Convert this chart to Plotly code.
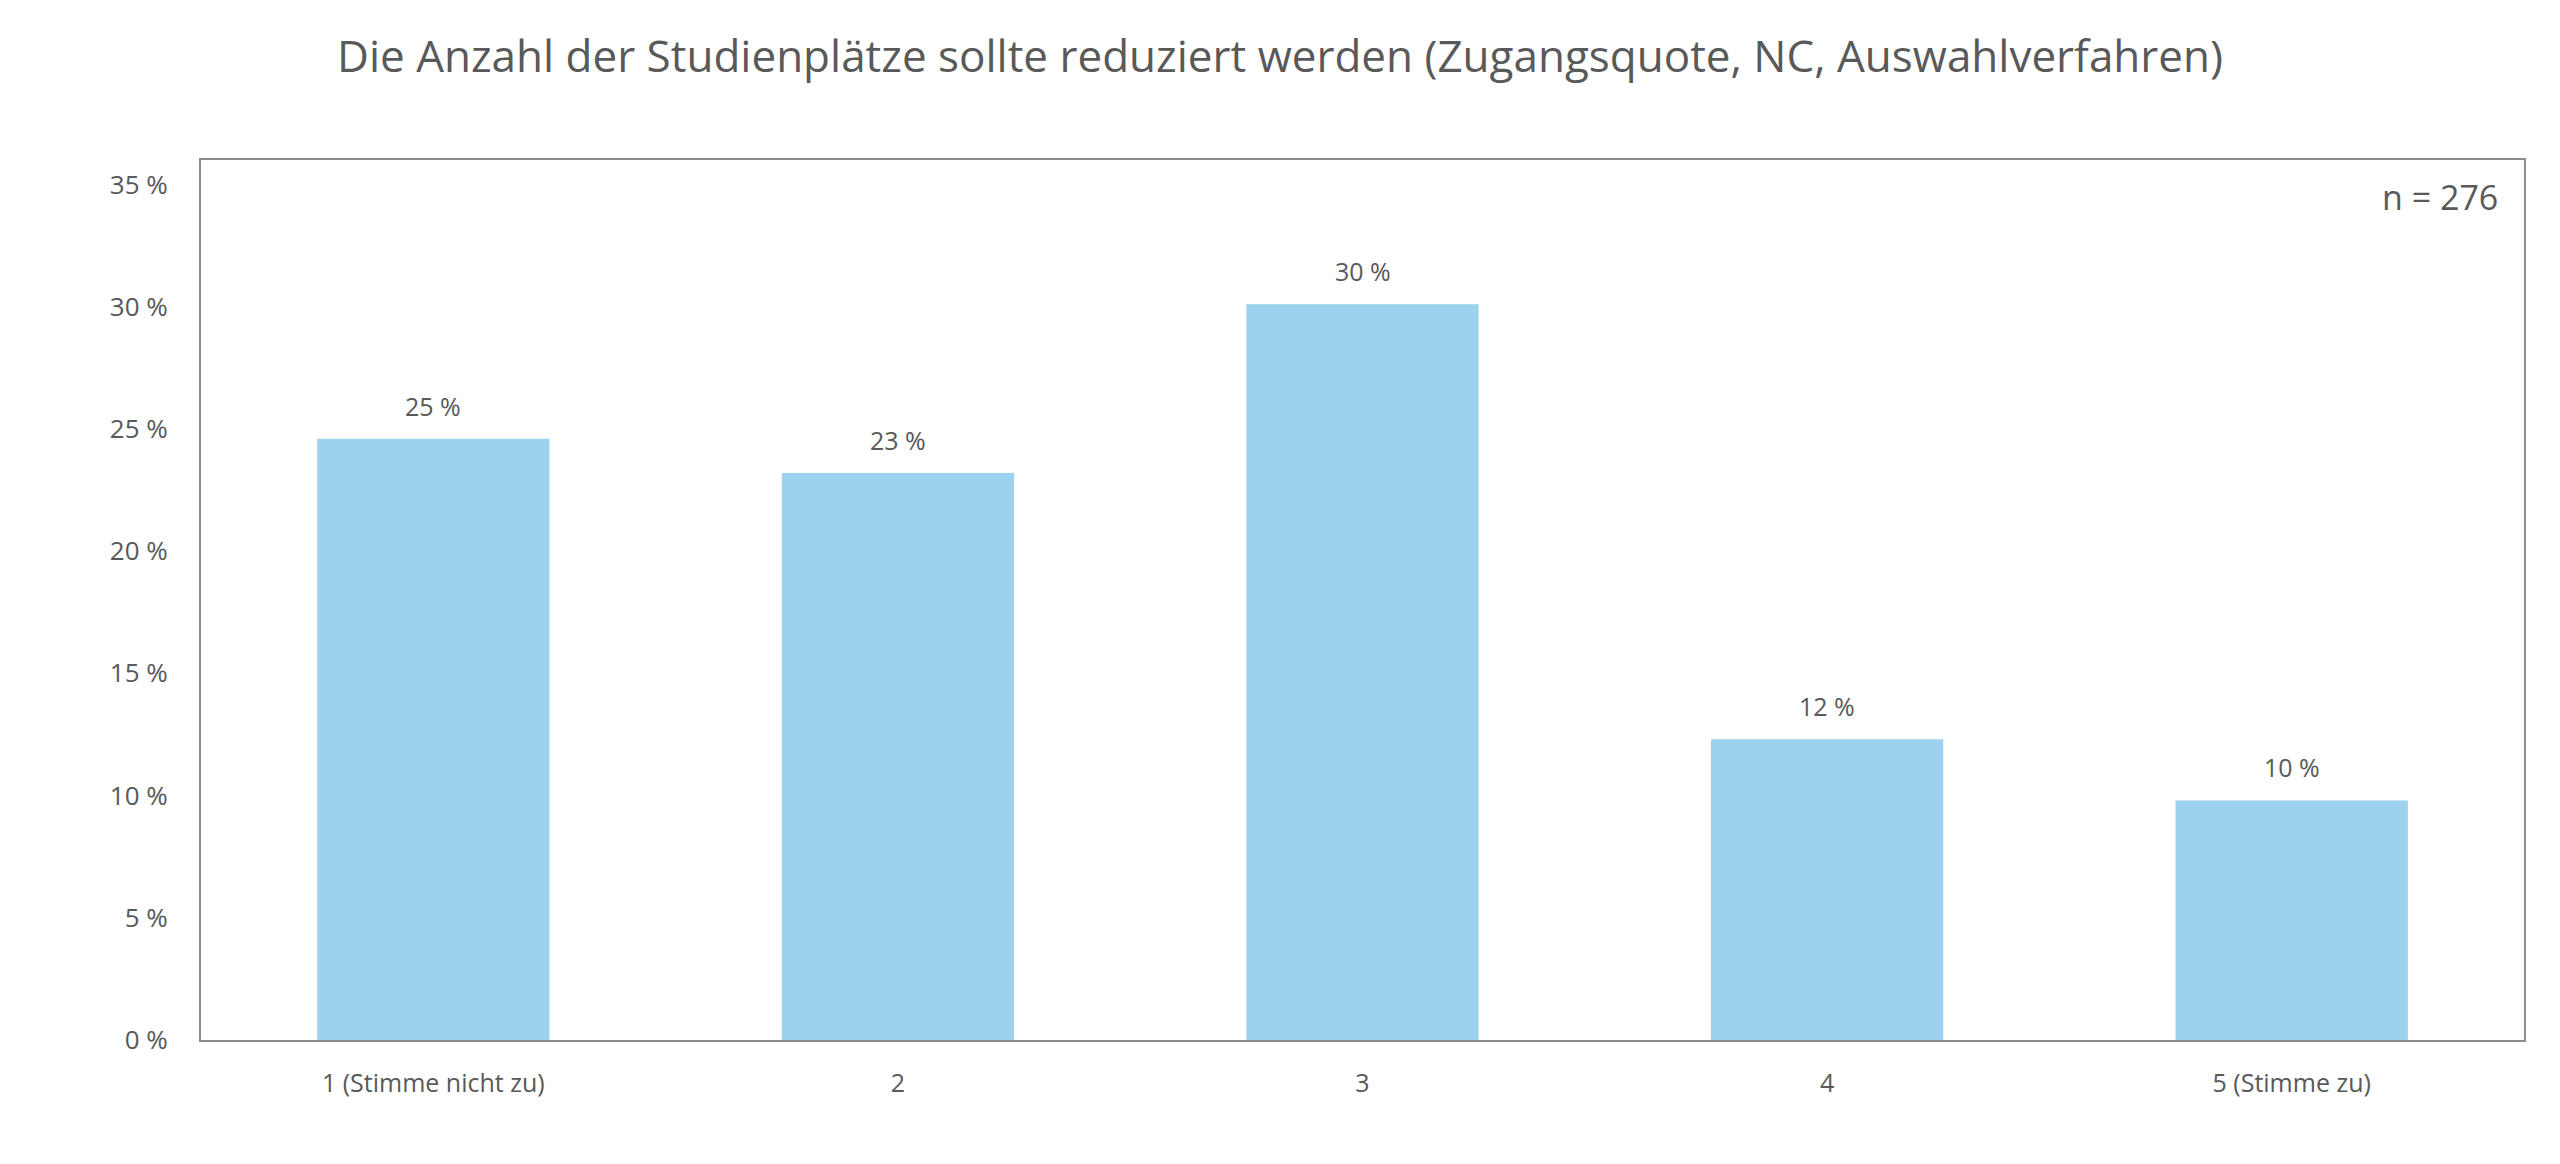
import plotly.graph_objects as go

# answers on the 1..5 scale, share of respondents in percent
categories = ["1 (Stimme nicht zu)", "2", "3", "4", "5 (Stimme zu)"]
shares = [24.6, 23.2, 30.1, 12.3, 9.8]
n_total = 276
y_ticks = [0, 5, 10, 15, 20, 25, 30, 35]

title = "Die Anzahl der Studienplätze sollte reduziert werden (Zugangsquote, NC, Auswahlverfahren)"
grey = "#595959"
font = "Open Sans"

# page body has an 8px margin, so the figure is a bit smaller than the window
W, H = 2544, 1148

fig = go.Figure()
fig.add_trace(go.Bar(
    x=categories, y=shares,
    marker_color="#9dd2ee", marker_line_width=0,
    width=0.5, hoverinfo="x+y"))

# value labels above the bars (x by index so "2", "3" aren't read as numbers)
for i, val in enumerate(shares):
    fig.add_annotation(
        x=i, y=val, text=f"{val:.0f} %", showarrow=False,
        yanchor="bottom", yshift=14,
        font=dict(family=font, size=25, color=grey))

fig.add_annotation(
    xref="paper", yref="paper", x=1, y=1, xanchor="right", yanchor="top",
    xshift=-24, yshift=-12, text=f"n = {n_total}", showarrow=False,
    font=dict(family=font, size=34, color=grey))

fig.update_layout(
    width=W, height=H,
    title=dict(text=title, x=0.5, xref="container", xanchor="center",
               y=1 - 49 / H, yanchor="middle",
               font=dict(family=font, size=44, color=grey)),
    margin=dict(l=193, r=28, t=152, b=116),
    plot_bgcolor="white", paper_bgcolor="white",
    showlegend=False,
    font=dict(family=font, color=grey),
    )
fig.update_xaxes(
    type="category",
    showline=True, linecolor="#8c8c8c", linewidth=2, mirror=True,
    showgrid=False, ticks="", tickfont=dict(size=25, color=grey),
    ticklabelstandoff=20)
fig.update_yaxes(
    range=[0, 36], tickmode="array", tickvals=y_ticks,
    ticktext=[f"{v} %" for v in y_ticks],
    showline=True, linecolor="#8c8c8c", linewidth=2, mirror=True,
    showgrid=False, zeroline=False, ticks="",
    tickfont=dict(size=26, color=grey), ticklabelstandoff=26)

fig.write_html("out.html")
